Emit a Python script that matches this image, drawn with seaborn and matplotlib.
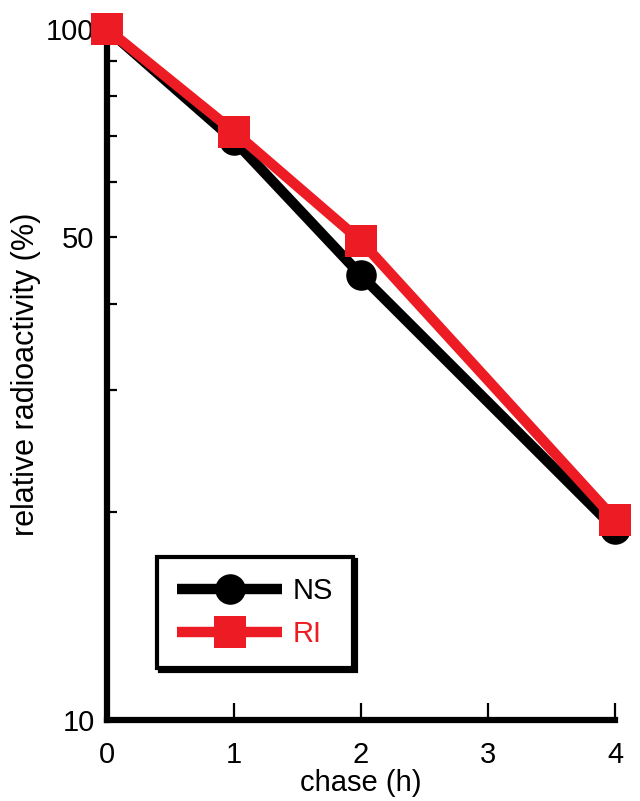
import matplotlib
matplotlib.use('Agg')
import numpy as np
import pandas as pd
import matplotlib.pyplot as plt
import seaborn as sns

# Datos
chase_h = [0, 1, 2, 4]
ns_values = [100, 69, 44, 18.9]
ri_values = [100, 71, 49.3, 19.5]
series_names = ['NS', 'RI']

x_ticks = [0, 1, 2, 3, 4]
y_ticks = [10, 20, 30, 40, 50, 60, 70, 80, 90, 100]
y_labels = ['10', '', '', '', '50', '', '', '', '', '100']

df = pd.DataFrame({
    'chase': chase_h * 2,
    'value': ns_values + ri_values,
    'serie': [series_names[0]] * len(chase_h) + [series_names[1]] * len(chase_h),
})

sns.set_style('ticks')
plt.rcParams['font.family'] = ['Liberation Sans', 'DejaVu Sans']
plt.rcParams['text.color'] = 'black'
plt.rcParams['axes.labelcolor'] = 'black'

RED = '#ED1C24'

fig = plt.figure(figsize=(6.4, 8.01), dpi=100)
ax = fig.add_axes([0.1672, 0.1011, 0.794, 0.8627])

sns.lineplot(data=df[df['serie'] == 'NS'], x='chase', y='value', ax=ax,
             color='black', marker='o', markersize=22, linewidth=7.5,
             markeredgewidth=0, label='NS', clip_on=False, zorder=3,
             solid_capstyle='butt')
sns.lineplot(data=df[df['serie'] == 'RI'], x='chase', y='value', ax=ax,
             color=RED, marker='s', markersize=23, linewidth=7.5,
             markeredgewidth=0, label='RI', clip_on=False, zorder=4,
             solid_capstyle='butt')

ax.set_yscale('log')
ax.set_ylim(10, 100)
ax.set_xlim(0, 4)
ax.set_yticks(y_ticks)
ax.set_yticklabels(y_labels)
ax.minorticks_off()
ax.set_xticks(x_ticks)
ax.set_xticklabels([str(t) for t in x_ticks])

for side in ['top', 'right']:
    ax.spines[side].set_visible(False)
for side in ['left', 'bottom']:
    ax.spines[side].set_linewidth(4.5)
    ax.spines[side].set_color('black')

ax.tick_params(axis='y', left=True, direction='in', length=7, width=1.6,
               labelsize=21, pad=9, color='black', labelcolor='black')
ax.tick_params(axis='x', bottom=True, direction='in', length=12, width=1.6,
               labelsize=21, pad=15, color='black', labelcolor='black')

ax.set_xlabel('chase (h)', fontsize=21, labelpad=0)
ax.set_ylabel('relative radioactivity (%)', fontsize=22, labelpad=4)

leg = ax.legend(loc='upper left', bbox_to_anchor=(0.245, 0.3046),
                bbox_transform=fig.transFigure, borderaxespad=0,
                fontsize=21, handlelength=3.6, handletextpad=0.35,
                labelspacing=0.5, borderpad=0.7, fancybox=False,
                shadow={'color': 'black', 'alpha': 1},
                framealpha=1, edgecolor='black')
leg.get_frame().set_linewidth(3)
leg.get_texts()[0].set_color('black')
leg.get_texts()[1].set_color(RED)

fig.savefig('out.png', dpi=100)
